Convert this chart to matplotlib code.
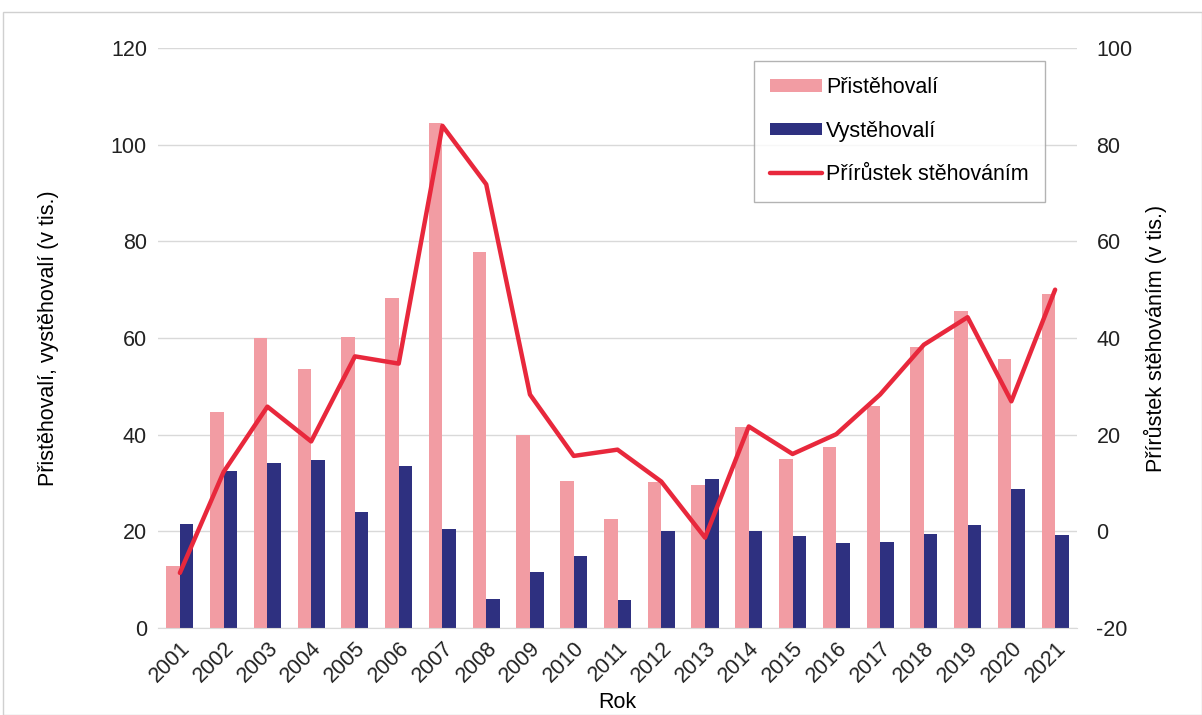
import numpy as np
import matplotlib
matplotlib.use("Agg")
import matplotlib.pyplot as plt
from matplotlib.patches import Rectangle

plt.rcParams['font.family'] = ['Liberation Sans', 'DejaVu Sans']
plt.rcParams['axes.unicode_minus'] = False

years = [str(y) for y in range(2001, 2022)]
immigrants = [12.9, 44.7, 60.0, 53.5, 60.3, 68.2, 104.4, 77.8, 40.0, 30.5, 22.6,
              30.3, 29.6, 41.6, 34.9, 37.5, 45.9, 58.1, 65.6, 55.6, 69.2]
emigrants = [21.5, 32.4, 34.2, 34.8, 24.1, 33.5, 20.5, 6.0, 11.6, 14.9, 5.7,
             20.0, 30.9, 20.0, 19.0, 17.5, 17.7, 19.5, 21.3, 28.7, 19.2]
net = [-8.6, 12.3, 25.8, 18.6, 36.2, 34.7, 83.9, 71.8, 28.3, 15.6, 16.9,
       10.3, -1.3, 21.7, 16.0, 20.1, 28.3, 38.6, 44.3, 26.9, 50.0]

PINK = "#F29CA3"
BLUE = "#2E3080"
RED = "#E8283C"
GRID = "#D9D9D9"
FS = 15.5

fig = plt.figure(figsize=(12.02, 7.15), dpi=100)
fig.patches.append(Rectangle((3 / 1202, 0), 1 - 3 / 1202, 1 - 12 / 715,
                             transform=fig.transFigure, fill=False,
                             edgecolor="#D0D0D0", lw=1))
ax = fig.add_axes([158 / 1202, 1 - 628 / 715, (1077 - 158) / 1202, (628 - 48) / 715])
ax2 = ax.twinx()

x = np.arange(len(years))
w = 0.31
b1 = ax.bar(x - w / 2, immigrants, w, color=PINK, label="Přistěhovalí", zorder=2)
b2 = ax.bar(x + w / 2, emigrants, w, color=BLUE, label="Vystěhovalí", zorder=2)
l1, = ax2.plot(x, net, color=RED, lw=3.2, label="Přírůstek stěhováním",
               solid_capstyle="round", solid_joinstyle="round")

ax.set_xlim(-0.5, len(years) - 0.5)
ax.set_ylim(0, 120)
ax.set_yticks(range(0, 121, 20))
ax2.set_ylim(-20, 100)
ax2.set_yticks(range(-20, 101, 20))
ax.yaxis.grid(True, color=GRID, lw=1, zorder=0)
ax.set_axisbelow(True)

ax.set_xticks(x)
ax.set_xticklabels(years, rotation=45, ha="right", rotation_mode="anchor")
for a in (ax, ax2):
    for s in a.spines.values():
        s.set_visible(False)
    a.tick_params(length=0, labelsize=FS, colors="#222222")
ax.spines["bottom"].set_visible(True)
ax.spines["bottom"].set_color(GRID)
ax.tick_params(axis="y", pad=8)
ax2.tick_params(axis="y", pad=14)
ax.tick_params(axis="x", pad=7)

ax.set_ylabel("Přistěhovalí, vystěhovalí (v tis.)", fontsize=FS, labelpad=37)
ax2.set_ylabel("Přírůstek stěhováním (v tis.)", fontsize=FS, labelpad=8)
ax.set_xlabel("Rok", fontsize=FS, labelpad=4)

leg = ax2.legend([b1, b2, l1], ["Přistěhovalí", "Vystěhovalí", "Přírůstek stěhováním"],
                 loc="upper left", bbox_to_anchor=(754 / 1202, 1 - 61 / 715),
                 bbox_transform=fig.transFigure, fontsize=FS, frameon=True,
                 fancybox=False, edgecolor="#A0A0A0", labelspacing=1.05,
                 handlelength=2.4, handleheight=0.5, handletextpad=0.2,
                 borderpad=0.75, borderaxespad=0)
leg.get_frame().set_linewidth(1)

fig.savefig("out.png", dpi=100)
